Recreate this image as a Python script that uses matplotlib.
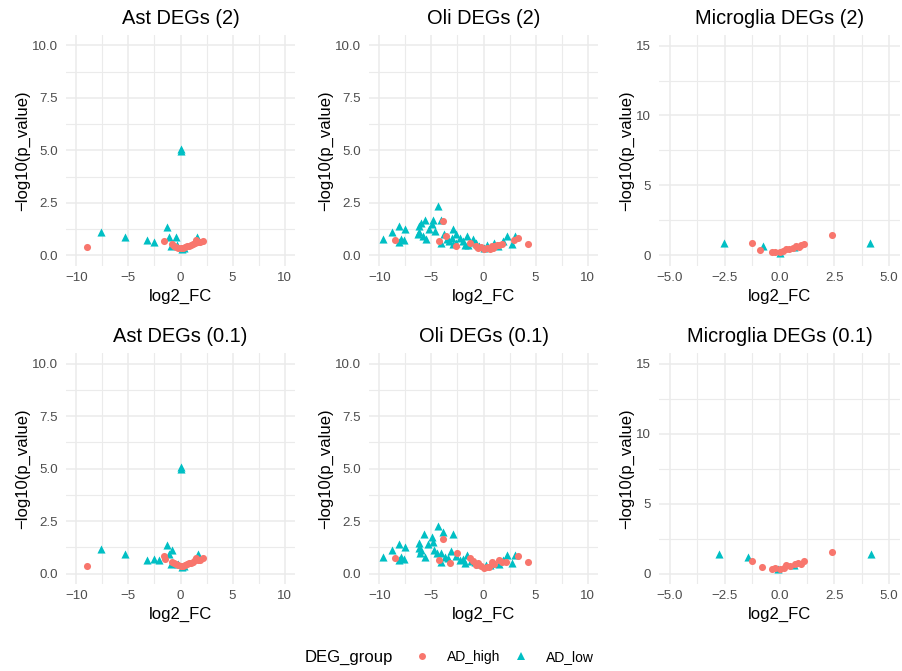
import matplotlib
matplotlib.use("Agg")
import matplotlib.pyplot as plt
from matplotlib.lines import Line2D
from matplotlib.ticker import MultipleLocator

plt.rcParams["font.family"] = ["Liberation Sans", "DejaVu Sans"]

RED  = "#F8766D"
TEAL = "#00BFC4"
GRID = "#EBEBEB"

# ── Data: log2 fold change vs -log10(p) per cell type / threshold ─────
ast2_high_x = [-9.0, -1.6, -0.8, -0.6, -0.4, -0.2, 0.0, 0.2, 0.4, 0.6, 0.8, 1.0, 1.2, 1.4, 1.5, 1.7, 1.9, 2.2]
ast2_high_y = [0.40, 0.71, 0.55, 0.47, 0.42, 0.38, 0.35, 0.37, 0.40, 0.43, 0.46, 0.50, 0.54, 0.58, 0.72, 0.62, 0.66, 0.70]
ast2_low_x  = [0.0, 0.0, -7.6, -5.3, -3.2, -2.5, -1.25, -1.1, -0.4, 1.6, -0.95, -0.3, 0.1, 0.3]
ast2_low_y  = [5.05, 4.98, 1.12, 0.90, 0.73, 0.65, 1.37, 0.90, 0.88, 0.86, 0.43, 0.50, 0.33, 0.38]

oli2_high_x = [-8.55, -3.9, -4.3, -3.6, -2.6, -1.3, -0.7, 0.0, 0.8, 1.3, 1.1, 3.35, 4.3, 2.9, 0.6, -0.5,
               -0.2, 0.3, 1.5, 1.8, 0.9]
oli2_high_y = [0.76, 1.65, 0.67, 0.95, 0.45, 0.60, 0.45, 0.33, 0.45, 0.52, 0.45, 0.84, 0.56, 0.76, 0.33, 0.37,
               0.40, 0.36, 0.50, 0.55, 0.38]
oli2_low_x  = [-9.7, -8.8, -8.1, -7.5, -8.1, -7.9, -7.6, -6.15, -6.0, -5.65, -4.85, -4.9, -4.4, -6.15,
               -5.8, -5.5, -4.7, -4.1, -2.9, -3.8, -4.1, -3.5, -3.05, -2.6, -2.25, -1.6, -1.0, -2.6,
               -1.8, -0.7, 0.3, 1.0, 2.25, 3.05, 1.9, 2.7, 0.0,
               -3.3, -2.0, -1.3, -0.4, 0.6, 1.4, -2.9, -1.5, -5.2, -6.3]
oli2_low_y  = [0.80, 1.10, 1.40, 1.27, 0.65, 0.80, 0.75, 1.40, 1.55, 1.68, 1.68, 1.48, 2.35, 1.10,
               0.95, 0.80, 1.15, 1.70, 1.27, 1.00, 0.60, 0.78, 0.85, 1.00, 0.85, 0.93, 0.80, 0.60,
               0.52, 0.60, 0.50, 0.60, 0.92, 0.92, 0.70, 0.55, 0.35,
               0.70, 0.70, 0.65, 0.45, 0.42, 0.45, 0.55, 0.50, 1.25, 1.00]

mic2_high_x = [-1.25, -0.91, -0.35, -0.2, 0.0, 0.15, 0.3, 0.45, 0.6, 0.76, 0.9, 1.0, 1.14, 2.39]
mic2_high_y = [0.86, 0.36, 0.28, 0.25, 0.26, 0.30, 0.43, 0.45, 0.52, 0.67, 0.60, 0.72, 0.79, 1.46]
mic2_low_x  = [-2.54, -0.76, 0.0, 0.68, 4.14]
mic2_low_y  = [0.86, 0.69, 0.20, 0.60, 0.86]

ast01_high_x = [-9.0, -1.6, -1.5, -0.8, -0.6, -0.4, -0.2, 0.0, 0.2, 0.4, 0.6, 0.8, 1.0, 1.2, 1.4, 1.5, 1.7, 1.9, 2.2]
ast01_high_y = [0.38, 0.81, 0.70, 0.55, 0.50, 0.45, 0.40, 0.36, 0.38, 0.41, 0.44, 0.48, 0.52, 0.56, 0.62, 0.72, 0.62, 0.66, 0.72]
ast01_low_x  = [0.0, 0.0, -7.6, -5.3, -3.2, -2.5, -2.1, -1.25, -0.8, -1.1, 1.7, -0.9, -0.2, 0.1, 0.3]
ast01_low_y  = [5.05, 4.98, 1.16, 0.92, 0.65, 0.67, 0.62, 1.37, 1.10, 0.92, 0.94, 0.43, 0.45, 0.33, 0.36]

oli01_high_x = [-8.55, -3.9, -4.3, -2.5, -3.2, -1.3, -0.7, 0.0, 0.8, 1.45, 3.35, 4.3, 2.2, 0.5, -0.5,
                -0.2, 0.3, 1.0, 1.8, -1.0]
oli01_high_y = [0.73, 1.64, 0.65, 1.00, 0.49, 0.73, 0.41, 0.28, 0.57, 0.65, 0.84, 0.57, 0.57, 0.33, 0.49,
                0.35, 0.30, 0.45, 0.55, 0.60]
oli01_low_x  = [-9.7, -8.8, -8.1, -7.5, -8.1, -7.9, -7.6, -6.15, -6.0, -5.67, -4.85, -4.9, -4.4, -3.9,
                -2.9, -6.1, -5.6, -4.8, -4.1, -4.1, -3.1, -3.4, -2.6, -2.25, -1.6, -1.8, -0.8, 0.2,
                1.0, 2.25, 3.0, 1.9, 2.7,
                -3.7, -2.0, -1.2, -0.4, 0.6, 1.5, -5.3, -6.2, -4.5]
oli01_low_y  = [0.78, 1.10, 1.39, 1.27, 0.65, 0.78, 0.68, 1.44, 1.13, 1.87, 1.52, 1.73, 2.27, 1.97,
                1.90, 0.97, 0.80, 1.13, 0.97, 0.57, 1.05, 0.73, 0.81, 0.65, 0.89, 0.49, 0.57, 0.40,
                0.49, 0.89, 0.86, 0.65, 0.49,
                0.80, 0.70, 0.60, 0.45, 0.40, 0.45, 1.40, 1.20, 1.00]

mic01_high_x = [-1.25, -0.82, -0.35, -0.2, 0.0, 0.2, 0.3, 0.5, 0.7, 0.84, 1.0, 1.14, 2.39]
mic01_high_y = [0.91, 0.43, 0.35, 0.38, 0.33, 0.40, 0.60, 0.55, 0.65, 0.77, 0.70, 0.86, 1.53]
mic01_low_x  = [-2.77, -1.45, -0.05, 0.68, 4.19]
mic01_low_y  = [1.39, 1.15, 0.30, 0.60, 1.37]

panels = [
    ("Ast DEGs (2)",         ast2_high_x,  ast2_high_y,  ast2_low_x,  ast2_low_y,  10, 10),
    ("Oli DEGs (2)",         oli2_high_x,  oli2_high_y,  oli2_low_x,  oli2_low_y,  10, 10),
    ("Microglia DEGs (2)",   mic2_high_x,  mic2_high_y,  mic2_low_x,  mic2_low_y,  5,  15),
    ("Ast DEGs (0.1)",       ast01_high_x, ast01_high_y, ast01_low_x, ast01_low_y, 10, 10),
    ("Oli DEGs (0.1)",       oli01_high_x, oli01_high_y, oli01_low_x, oli01_low_y, 10, 10),
    ("Microglia DEGs (0.1)", mic01_high_x, mic01_high_y, mic01_low_x, mic01_low_y, 5,  15),
]

# ── Figure ────────────────────────────────────────────────────────────
W, H = 902, 671
fig = plt.figure(figsize=(W / 100, H / 100), dpi=100)

col_box = [(66, 229), (369, 229), (659, 241)]   # left, width (px)
row_box = [(35, 231), (353, 231)]               # top, height (px)

for i, (title, hx, hy, lx, ly, xmax, ymax) in enumerate(panels):
    r, c = divmod(i, 3)
    left, w = col_box[c]
    top, h = row_box[r]
    ax = fig.add_axes([left / W, 1 - (top + h) / H, w / W, h / H])

    ax.scatter(lx, ly, marker="^", s=34, color=TEAL, linewidths=0, zorder=3)
    ax.scatter(hx, hy, marker="o", s=26, color=RED, linewidths=0, zorder=3)

    ax.set_xlim(-xmax * 1.1, xmax * 1.1)
    ax.set_ylim(-ymax * 0.05, ymax * 1.05)
    if xmax == 10:
        ax.xaxis.set_minor_locator(MultipleLocator(2.5))
        ax.yaxis.set_minor_locator(MultipleLocator(1.25))
        ax.set_xticks([-10, -5, 0, 5, 10])
        ax.set_xticklabels(["\u221210", "\u22125", "0", "5", "10"])
        ax.set_yticks([0, 2.5, 5, 7.5, 10])
        ax.set_yticklabels(["0.0", "2.5", "5.0", "7.5", "10.0"])
    else:
        ax.xaxis.set_minor_locator(MultipleLocator(1.25))
        ax.yaxis.set_minor_locator(MultipleLocator(2.5))
        ax.set_xticks([-5, -2.5, 0, 2.5, 5])
        ax.set_xticklabels(["\u22125.0", "\u22122.5", "0.0", "2.5", "5.0"])
        ax.set_yticks([0, 5, 10, 15])
        ax.set_yticklabels(["0", "5", "10", "15"])

    ax.grid(True, which="major", color=GRID, lw=1.1, zorder=0)
    ax.grid(True, which="minor", color=GRID, lw=0.8, zorder=0)
    ax.set_axisbelow(True)
    for sp in ax.spines.values():
        sp.set_visible(False)
    ax.tick_params(which="both", length=0, labelsize=9.6, labelcolor="#4D4D4D")
    ax.tick_params(axis="y", pad=6)
    ax.tick_params(axis="x", pad=4)

    ax.set_title(title, fontsize=14.4, pad=8)
    ax.set_xlabel("log2_FC", fontsize=12, labelpad=4)
    ax.set_ylabel("\u2212log10(p_value)", fontsize=12, labelpad=1)

# ── Legend ────────────────────────────────────────────────────────────
fig.text(305 / W, 1 - 657 / H, "DEG_group", fontsize=12, ha="left", va="center")
handles = [
    Line2D([], [], marker="o", ls="", color=RED, markersize=5, markeredgewidth=0),
    Line2D([], [], marker="^", ls="", color=TEAL, markersize=5.5, markeredgewidth=0),
]
fig.legend(handles, ["AD_high", "AD_low"], ncol=2, frameon=False, fontsize=10,
           loc="center left", bbox_to_anchor=(408 / W, 1 - 657 / H),
           handlelength=1.2, handletextpad=1.2, columnspacing=0.9, borderaxespad=0)

fig.savefig("out.png", dpi=100)
